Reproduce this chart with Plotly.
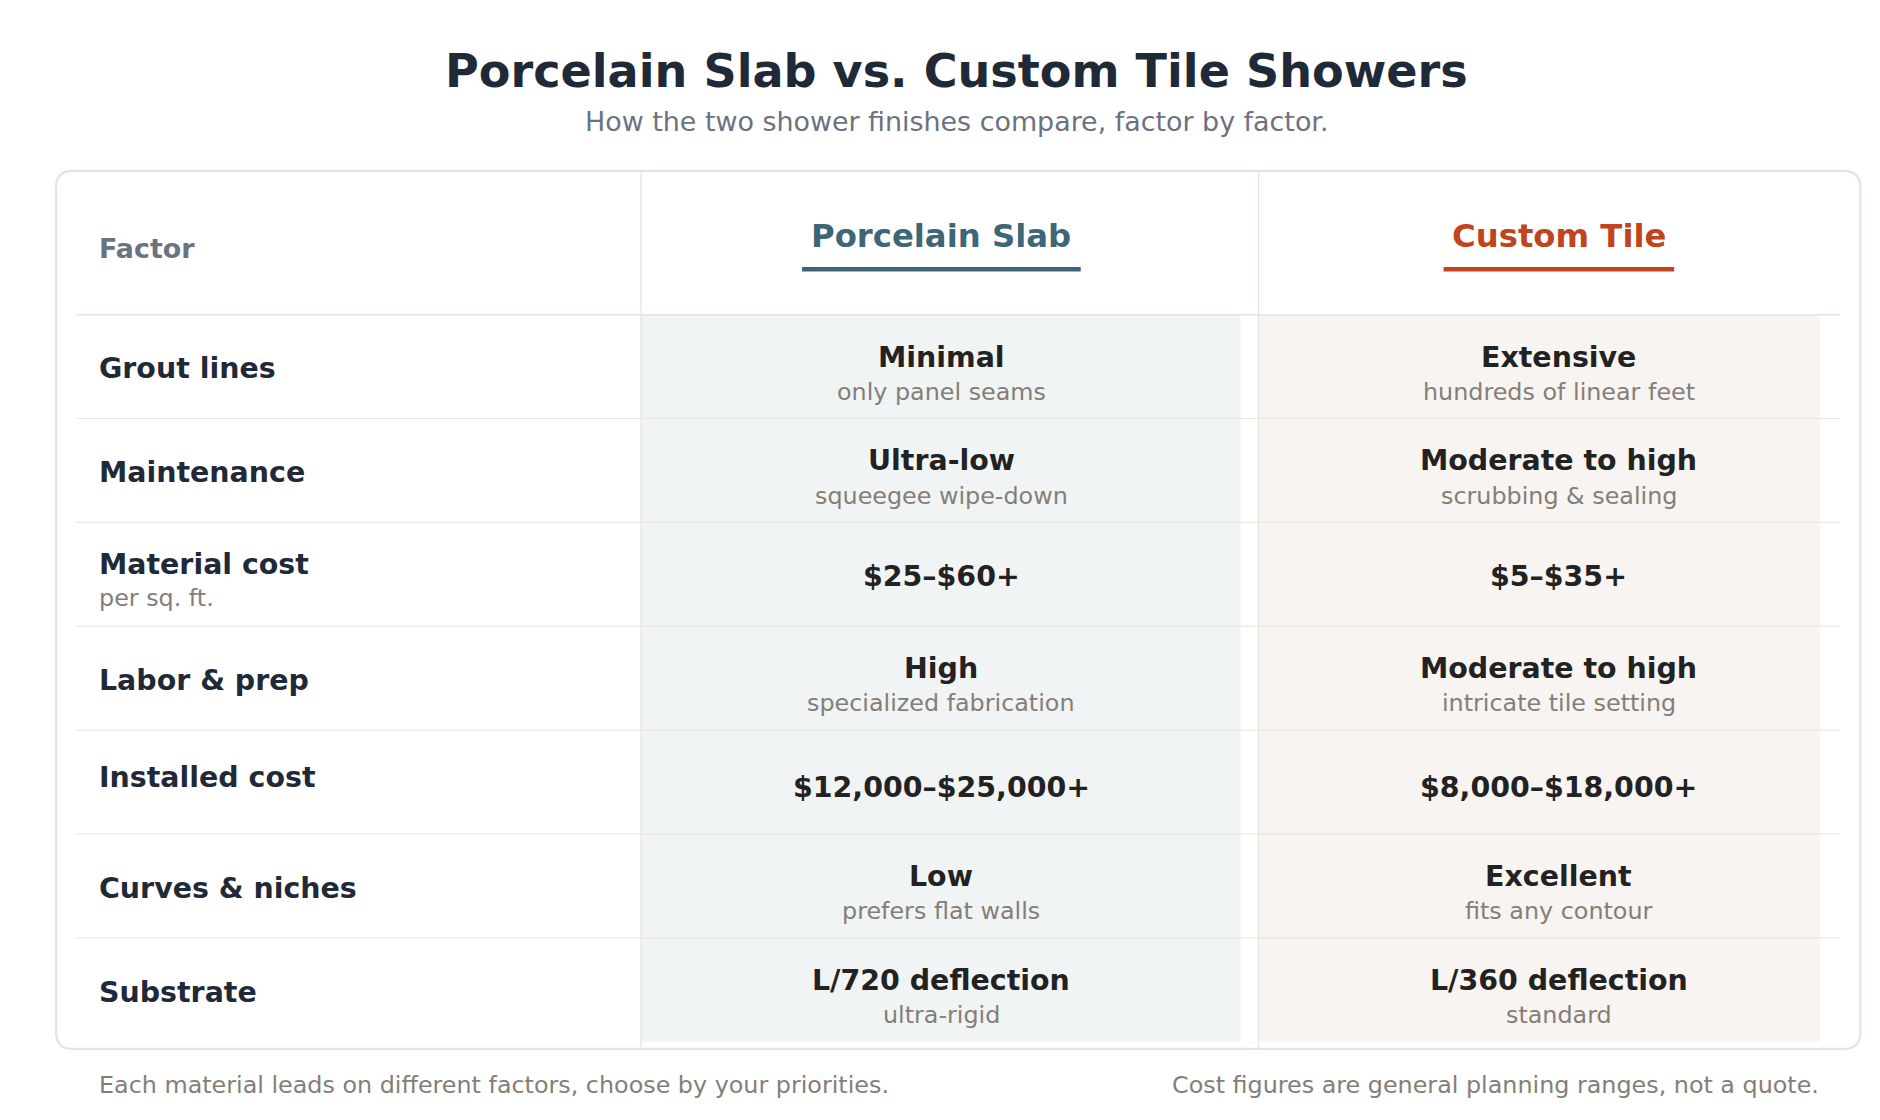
import plotly.graph_objects as go

factors = ["Grout lines", "Maintenance", "Material cost", "Labor & prep", "Installed cost", "Curves & niches", "Substrate"]
factor_notes = ["", "", "per sq. ft.", "", "", "", ""]
slab_main = ["Minimal", "Ultra-low", "$25–$60+", "High", "$12,000–$25,000+", "Low", "L/720 deflection"]
slab_note = ["only panel seams", "squeegee wipe-down", "", "specialized fabrication", "", "prefers flat walls", "ultra-rigid"]
tile_main = ["Extensive", "Moderate to high", "$5–$35+", "Moderate to high", "$8,000–$18,000+", "Excellent", "L/360 deflection"]
tile_note = ["hundreds of linear feet", "scrubbing & sealing", "", "intricate tile setting", "", "fits any contour", "standard"]
columns = ["Porcelain Slab", "Custom Tile"]
col_colors = ["#3d6677", "#c0441e"]

W, H = 1565, 935
S = 1880 / W * 1.28
FONT = "DejaVu Sans"
fig = go.Figure()
shapes, ann = [], []

def txt(x, y, t, size, color, bold=False, anchor="center"):
    ann.append(dict(x=x, y=y, xref="x", yref="y", text=f"<b>{t}</b>" if bold else t,
                    showarrow=False, xanchor=anchor, yanchor="middle",
                    font=dict(family=FONT, size=size * S, color=color)))

def rect(x0, y0, x1, y1, fill):
    shapes.append(dict(type="rect", x0=x0, y0=y0, x1=x1, y1=y1, xref="x", yref="y",
                       fillcolor=fill, line=dict(color=fill, width=0), layer="below"))

def line(x0, y0, x1, y1, color, w):
    shapes.append(dict(type="line", x0=x0, y0=y0, x1=x1, y1=y1, xref="x", yref="y",
                       line=dict(color=color, width=w)))

txt(W / 2, 47, "Porcelain Slab vs. Custom Tile Showers", 30, "#1f2937", True)
txt(W / 2, 89, "How the two shower finishes compare, factor by factor.", 17.5, "#6b7280")

r = 14; x0, y0, x1, y1 = 33, 130, 1535, 863
path = (f"M{x0+r},{y0} L{x1-r},{y0} Q{x1},{y0} {x1},{y0+r} L{x1},{y1-r} Q{x1},{y1} {x1-r},{y1} "
        f"L{x0+r},{y1} Q{x0},{y1} {x0},{y1-r} L{x0},{y0+r} Q{x0},{y0} {x0+r},{y0} Z")
shapes.append(dict(type="path", path=path, xref="x", yref="y", fillcolor="white",
                   line=dict(color="#e8e2da", width=2.2), layer="below"))

top, rh = 250, 86.7
rect(520, top, 1019, 857, "#f1f4f5")
rect(1034, top, 1501, 857, "#f8f4f1")
line(520, 130, 520, 863, "#e8e2da", 1.3)
line(1034, 130, 1034, 863, "#e8e2da", 1.3)
line(50, top, 1518, top, "#e8e2da", 1.5)

txt(67, 195, "Factor", 17.5, "#6b7280", True, "left")
for cx, name, c, hw in [(770, columns[0], col_colors[0], 116), (1284, columns[1], col_colors[1], 96)]:
    txt(cx, 184, name, 21, c, True)
    line(cx - hw, 212, cx + hw, 212, c, 4.5)

for i, f in enumerate(factors):
    yt = top + i * rh
    yc = yt + rh / 2
    if i > 0:
        line(50, yt, 1518, yt, "#ebe6df", 1.2)
    if factor_notes[i]:
        txt(67, yc - 8, f, 18.5, "#1f2937", True, "left")
        txt(67, yc + 20, factor_notes[i], 15.5, "#857e77", False, "left")
    elif f == "Installed cost":
        txt(67, yc - 4, f, 18.5, "#1f2937", True, "left")
    else:
        txt(67, yc + 2, f, 18.5, "#1f2937", True, "left")
    for cx, m, n in [(770, slab_main[i], slab_note[i]), (1284, tile_main[i], tile_note[i])]:
        if n:
            txt(cx, yc - 8, m, 18.5, "#222222", True)
            txt(cx, yc + 21, n, 15.5, "#857e77")
        else:
            txt(cx, yc + 5 if f == "Installed cost" else yc + 2, m, 18.5, "#222222", True)

txt(67, 893, "Each material leads on different factors, choose by your priorities.", 15.5, "#857e77", False, "left")
txt(1502, 893, "Cost figures are general planning ranges, not a quote.", 15.5, "#857e77", False, "right")

fig.update_layout(width=1880, height=1120, margin=dict(l=0, r=0, t=0, b=0),
                  paper_bgcolor="white", plot_bgcolor="white", shapes=shapes, annotations=ann,
                  xaxis=dict(range=[-7, W - 7], visible=False, fixedrange=True),
                  yaxis=dict(range=[H - 6, -6], visible=False, fixedrange=True),
                  showlegend=False)
fig.write_html("out.html")
